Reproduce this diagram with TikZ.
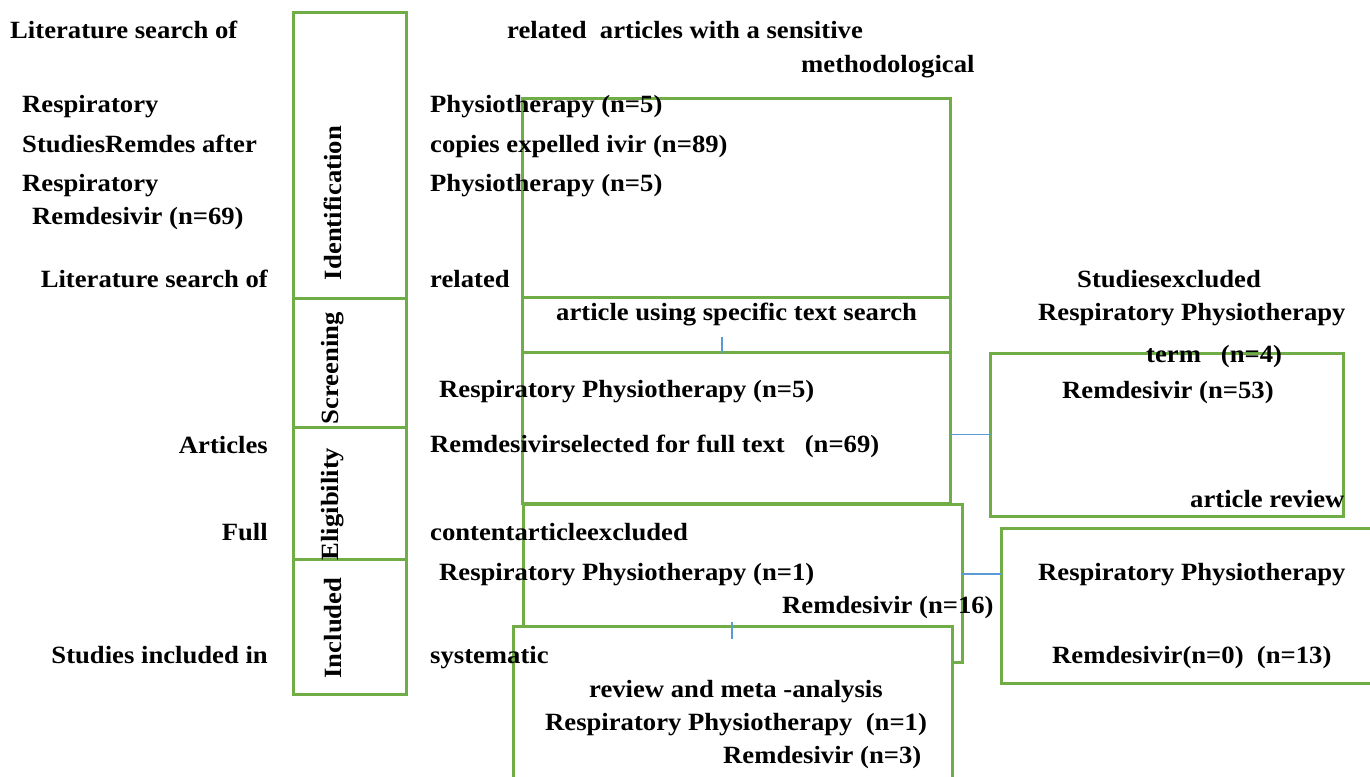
\documentclass[tikz,border=0pt]{standalone}
\usepackage{fontspec}
\setmainfont{Liberation Serif}[FakeStretch=1.075]
\usetikzlibrary{positioning, calc}

\definecolor{prismagreen}{RGB}{112,173,71}
\definecolor{prismablue}{RGB}{91,155,213}

\begin{document}
\begin{tikzpicture}[x=1pt, y=-1pt, line cap=rect, line join=miter,
    frame/.style={draw=prismagreen, line width=3pt, rectangle, inner sep=0pt,
      outer sep=0pt, anchor=north west},
    link/.style={draw=prismablue, line width=1.2pt},
    lbl/.style={font=\fontsize{24.8}{29}\selectfont\bfseries, inner sep=0pt},
    stage/.style={lbl, rotate=90}]
  \clip (0,0) rectangle (1370,776);
  \fill[white] (0,0) rectangle (1370,776);
  % --- stage column on the left --------------------------------------
  \node[frame, minimum width=113pt, minimum height=285pt] (stageId) at (293,13) {};
  \node[frame, minimum width=113pt, minimum height=129pt] (stageScr) at (293,298) {};
  \node[frame, minimum width=113pt, minimum height=151pt] (stageElig) at (293,427) {};
  \node[frame, fill=white, minimum width=113pt, minimum height=135pt] (stageIncl) at (293,559) {};
  \node[stage] (lblId) at (333,203) {Identification};
  \node[stage] (lblScr) at (333,368) {Screening};
  \node[stage] (lblElig) at (333,504) {Eligibility};
  \node[stage] (lblIncl) at (333,628) {Included};
  % --- record boxes in the middle ------------------------------------
  \node[frame, minimum width=428pt, minimum height=199pt] (recId) at (522,98) {};
  \node[frame, minimum width=428pt, minimum height=55pt] (recScr) at (522,297) {};
  \node[frame, minimum width=428pt, minimum height=151pt] (recElig) at (522,352) {};
  \node[frame, minimum width=439pt, minimum height=158pt] (recFull) at (523,504) {};
  \node[frame, fill=white, minimum width=439pt, minimum height=170pt] (recIncl) at (513,626) {};
  % --- exclusion boxes on the right ----------------------------------
  \node[frame, minimum width=353pt, minimum height=163pt] (exScr) at (990,353) {};
  \node[frame, minimum width=400pt, minimum height=155pt] (exFull) at (1001,528) {};
  % connectors
  \coordinate (tickA) at (722,338);
  \draw[link] (tickA) -- (tickA |- recElig.north);
  \draw[link] (exScr.west -| recElig.east) -- (exScr.west);
  \draw[link] (recFull.east |- 0,574) -- (exFull.west |- 0,574);
  \coordinate (tickB) at (732,623);
  \draw[link] (tickB) -- (tickB |- 0,638);
  % --- texts, left column ---------------------------------------------
  \node[lbl, anchor=base west] (t1) at (10,38) {Literature search of};
  \node[lbl, anchor=base west] (t4) at (22,112) {Respiratory};
  \node[lbl, anchor=base west] (t6) at (22,152) {StudiesRemdes after};
  \node[lbl, anchor=base west] (t8) at (22,191) {Respiratory};
  \node[lbl, anchor=base west] (t10) at (32,224) {Remdesivir (n=69)};
  \node[lbl, anchor=base east] (t11) at (268,287) {Literature search of};
  \node[lbl, anchor=base east] (t19) at (268,453) {Articles};
  \node[lbl, anchor=base east] (t22) at (268,540) {Full};
  \node[lbl, anchor=base east] (t27) at (268,663) {Studies included in};
  % --- texts, middle ----------------------------------------------------
  \node[lbl, anchor=base west] (t2) at (507,38) {related\ \ articles with a sensitive};
  \node[lbl, anchor=base west] (t3) at (801,72) {methodological};
  \node[lbl, anchor=base west] (t5) at (430,112) {Physiotherapy (n=5)};
  \node[lbl, anchor=base west] (t7) at (430,152) {copies expelled ivir (n=89)};
  \node[lbl, anchor=base west] (t9) at (430,191) {Physiotherapy (n=5)};
  \node[lbl, anchor=base west] (t12) at (430,287) {related};
  \node[lbl, anchor=base west] (t14) at (556,320) {article using specific text search};
  \node[lbl, anchor=base west] (t17) at (439,397) {Respiratory Physiotherapy (n=5)};
  \node[lbl, anchor=base west] (t20) at (430,452) {Remdesivirselected for full text\ \ \ (n=69)};
  \node[lbl, anchor=base west] (t23) at (430,540) {contentarticleexcluded};
  \node[lbl, anchor=base west] (t24) at (439,580) {Respiratory Physiotherapy (n=1)};
  \node[lbl, anchor=base west] (t26) at (782,613) {Remdesivir (n=16)};
  \node[lbl, anchor=base west] (t28) at (430,663) {systematic};
  \node[lbl, anchor=base west] (t30) at (589,697) {review and meta -analysis};
  \node[lbl, anchor=base west] (t31) at (545,730) {Respiratory Physiotherapy\ \ (n=1)};
  \node[lbl, anchor=base west] (t32) at (723,763) {Remdesivir (n=3)};
  % --- texts, right -----------------------------------------------------
  \node[lbl, anchor=base west] (t13) at (1077,287) {Studiesexcluded};
  \node[lbl, anchor=base west] (t15) at (1038,320) {Respiratory Physiotherapy};
  \node[lbl, anchor=base west] (t16) at (1146,362) {term\ \ \ (n=4)};
  \node[lbl, anchor=base west] (t18) at (1062,398) {Remdesivir (n=53)};
  \node[lbl, anchor=base west] (t21) at (1190,507) {article review};
  \node[lbl, anchor=base west] (t25) at (1038,580) {Respiratory Physiotherapy};
  \node[lbl, anchor=base west] (t29) at (1052,663) {Remdesivir(n=0)\ \ (n=13)};
\end{tikzpicture}
\end{document}
